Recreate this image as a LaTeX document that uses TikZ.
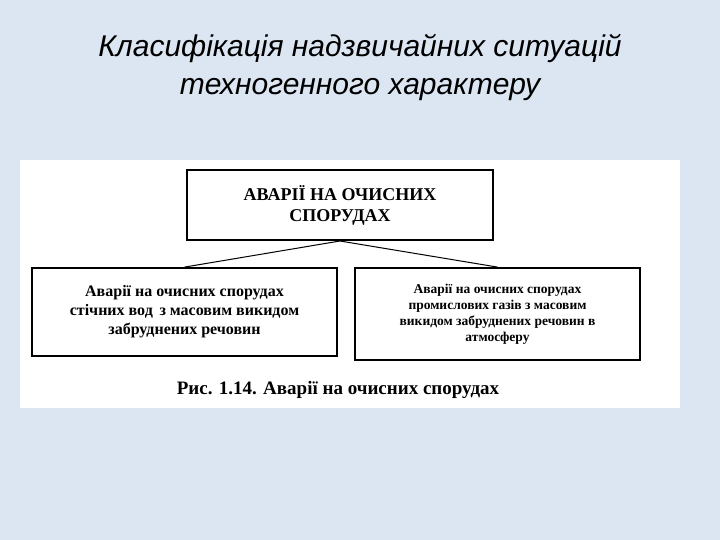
\documentclass[tikz,border=0pt]{standalone}
\usepackage{fontspec}
\setmainfont{Liberation Serif}
\newfontfamily\titlefont{Liberation Sans}
\definecolor{bg}{HTML}{DCE6F2}
\begin{document}
\begin{tikzpicture}[x=1pt,y=-1pt,
  box/.style={draw,line width=1.8pt,align=center,font=\bfseries\fontsize{16}{19}\selectfont},
  conn/.style={line width=1pt}]
\useasboundingbox (0,0) rectangle (720,540);
\fill[bg] (0,0) rectangle (720,540);
\node[font=\titlefont\itshape\fontsize{30}{38}\selectfont,align=center] (title) at (360,68)
  {Класифікація надзвичайних ситуацій\\техногенного характеру};
\fill[white] (20,160) rectangle (680,408);
\node[box,minimum width=306pt,minimum height=70pt,font=\bfseries\fontsize{18}{21}\selectfont] (top) at (340,205) {АВАРІЇ НА ОЧИСНИХ\\СПОРУДАХ};
\node[box,minimum width=305pt,minimum height=88pt] (left) at (184.5,312) {Аварії на очисних спорудах\\стічних вод\, з масовим викидом\\забруднених речовин};
\node[box,minimum width=285pt,minimum height=92pt,font=\bfseries\fontsize{13.5}{16}\selectfont] (right) at (497.5,314) {Аварії на очисних спорудах\\промислових газів з масовим\\викидом забруднених речовин в\\атмосферу};
\coordinate (j) at (340,241);
\draw[conn] (j) -- (left.north);
\draw[conn] (j) -- (right.north);
\node[font=\bfseries\fontsize{19}{22}\selectfont] (cap) at (338,390) {Рис. 1.14. Аварії на очисних спорудах};
\end{tikzpicture}
\end{document}
